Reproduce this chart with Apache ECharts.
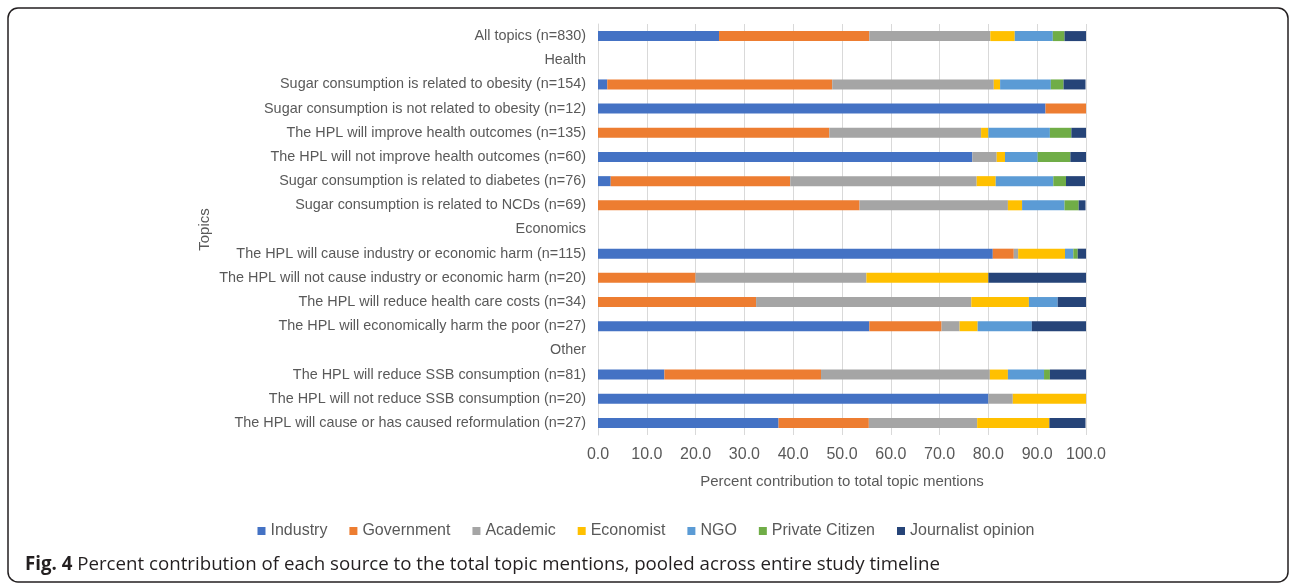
<!DOCTYPE html>
<html>
<head>
<meta charset="utf-8">
<title>Percent contribution of each source</title>
<script src="https://cdn.jsdelivr.net/npm/echarts@6/dist/echarts.min.js"></script>
<style>
    html, body { margin: 0; padding: 0; background: #fff; }
    #char1 { width: 1292px; height: 584px; }
</style>
</head>
<body>
<div id="char1"></div>
<script>
// 话题（从上到下）
var topics = [
    'All topics (n=830)',
    'Health',
    'Sugar consumption is related to obesity (n=154)',
    'Sugar consumption is not related to obesity (n=12)',
    'The HPL will improve health outcomes (n=135)',
    'The HPL will not improve health outcomes (n=60)',
    'Sugar consumption is related to diabetes (n=76)',
    'Sugar consumption is related to NCDs (n=69)',
    'Economics',
    'The HPL will cause industry or economic harm (n=115)',
    'The HPL will not cause industry or economic harm (n=20)',
    'The HPL will reduce health care costs (n=34)',
    'The HPL will economically harm the poor (n=27)',
    'Other',
    'The HPL will reduce SSB consumption (n=81)',
    'The HPL will not reduce SSB consumption (n=20)',
    'The HPL will cause or has caused reformulation (n=27)'
];

// 各来源所占百分比，'-' 为分组标题行
var industry   = [24.8, '-', 1.9, 91.7, 0, 76.7, 2.6, 0, '-', 80.9, 0, 0, 55.6, '-', 13.6, 80.0, 37.0];
var government = [30.8, '-', 46.1, 8.3, 47.4, 0, 36.8, 53.6, '-', 4.3, 20.0, 32.4, 14.8, '-', 32.1, 0, 18.5];
var academic   = [24.8, '-', 33.1, 0, 31.1, 5.0, 38.2, 30.4, '-', 0.9, 35.0, 44.1, 3.7, '-', 34.6, 5.0, 22.2];
var economist  = [5.0, '-', 1.3, 0, 1.5, 1.7, 3.9, 2.9, '-', 9.6, 25.0, 11.8, 3.7, '-', 3.7, 15.0, 14.8];
var ngo        = [7.8, '-', 10.4, 0, 12.6, 6.7, 11.8, 8.7, '-', 1.7, 0, 5.9, 11.1, '-', 7.4, 0, 0];
var citizen    = [2.4, '-', 2.6, 0, 4.4, 6.7, 2.6, 2.9, '-', 0.9, 0, 0, 0, '-', 1.2, 0, 0];
var journalist = [4.4, '-', 4.5, 0, 3.0, 3.3, 3.9, 1.4, '-', 1.7, 20.0, 5.9, 11.1, '-', 7.4, 0, 7.4];

var sourceNames = ['Industry', 'Government', 'Academic', 'Economist', 'NGO', 'Private Citizen', 'Journalist opinion'];
var sourceData = [industry, government, academic, economist, ngo, citizen, journalist];
var colors = ['#4472C4', '#ED7D31', '#A5A5A5', '#FFC000', '#5B9BD5', '#70AD47', '#264478'];

var xTicks = [0, 10, 20, 30, 40, 50, 60, 70, 80, 90, 100];

var font = 'Liberation Sans, Arial, sans-serif';
var char1 = echarts.init(document.getElementById('char1'));

var series = [];
for (var i = 0; i < sourceNames.length; i++) {
    series.push({
        name: sourceNames[i],
        type: 'bar',
        stack: 'total',
        barWidth: 10,
        itemStyle: {color: colors[i]},
        data: sourceData[i]
    });
}

var charOption = {
    animation: false,
    color: colors,
    title: {
        text: '{b|Fig. 4} Percent contribution of each source to the total topic mentions, pooled across entire study timeline',
        left: 20,
        top: 550,
        textStyle: {
            fontFamily: 'Open Sans, sans-serif',
            fontSize: 18.7,
            fontWeight: 'normal',
            color: '#231f20',
            rich: {
                b: {fontFamily: 'Open Sans, sans-serif', fontSize: 18.7, fontWeight: 'bold', color: '#231f20'}
            }
        }
    },
    legend: {
        data: sourceNames,
        left: 'center',
        top: 518,
        icon: 'rect',
        itemWidth: 8,
        itemHeight: 8,
        itemGap: 22,
        textStyle: {fontFamily: font, fontSize: 16, color: '#595959'}
    },
    grid: {
        left: 598,
        right: 206,
        top: 24,
        bottom: 149
    },
    xAxis: {
        type: 'value',
        min: xTicks[0],
        max: xTicks[xTicks.length - 1],
        interval: 10,
        name: 'Percent contribution to total topic mentions',
        nameLocation: 'middle',
        nameGap: 39,
        nameTextStyle: {fontFamily: font, fontSize: 15, color: '#595959'},
        axisLine: {show: false},
        axisTick: {show: false},
        axisLabel: {
            fontFamily: font,
            fontSize: 16,
            color: '#595959',
            margin: 12,
            formatter: function (v) {
                return v.toFixed(1);
            }
        },
        splitLine: {lineStyle: {color: '#d9d9d9', width: 1}}
    },
    yAxis: {
        type: 'category',
        inverse: true,
        data: topics,
        name: 'Topics',
        nameLocation: 'middle',
        nameGap: 386,
        nameTextStyle: {fontFamily: font, fontSize: 15, color: '#595959'},
        axisLine: {lineStyle: {color: '#d9d9d9'}},
        axisTick: {show: false},
        axisLabel: {fontFamily: font, fontSize: 14.4, color: '#595959', margin: 12}
    },
    graphic: [{
        type: 'rect',
        shape: {x: 8, y: 8, width: 1280, height: 574, r: 10},
        style: {fill: 'none', stroke: '#231f20', lineWidth: 1.5},
        silent: true
    }],
    series: series
};

char1.setOption(charOption);
</script>
</body>
</html>
